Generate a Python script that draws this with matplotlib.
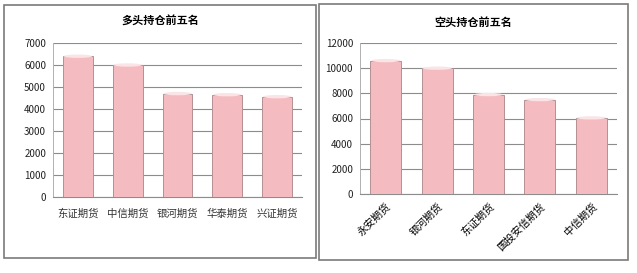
import matplotlib.pyplot as plt
from matplotlib.patches import Rectangle, Ellipse

plt.rcParams['font.family'] = ['Noto Sans CJK SC', 'DejaVu Sans']

long_names = ['东证期货', '中信期货', '银河期货', '华泰期货', '兴证期货']
long_values = [6400, 6000, 4700, 4650, 4560]
long_ticks = [0, 1000, 2000, 3000, 4000, 5000, 6000, 7000]

short_names = ['永安期货', '银河期货', '东证期货', '国投安信期货', '中信期货']
short_values = [10600, 10000, 7900, 7500, 6050]
short_ticks = [0, 2000, 4000, 6000, 8000, 10000, 12000]

bar_color = '#f4bcc0'
edge_color = '#b58f91'
cap_color = '#fbe4e6'
grid_color = '#8c8c8c'


def draw_panel(ax, names, values, ticks, rotate):
    x = list(range(len(names)))
    w = 0.6
    ax.bar(x, values, width=w, color=bar_color, edgecolor=edge_color, linewidth=0.7, zorder=3)
    cap_h = ticks[-1] * 0.022
    for xi, v in zip(x, values):
        ax.add_patch(Ellipse((xi, v), w * 0.95, cap_h, facecolor=cap_color,
                             edgecolor='none', zorder=4))
    ax.set_ylim(ticks[0], ticks[-1])
    ax.set_xlim(-0.5, len(names) - 0.5)
    ax.set_yticks(ticks)
    ax.set_yticklabels([str(t) for t in ticks], fontsize=7, color='#222222')
    ax.set_xticks(x)
    if rotate:
        ax.set_xticklabels(names, fontsize=7.5, rotation=45, ha='right', rotation_mode='anchor')
        ax.tick_params(axis='x', length=0, pad=5)
    else:
        ax.set_xticklabels(names, fontsize=7.5, color='#333333')
        ax.tick_params(axis='x', length=0, pad=8)
    ax.tick_params(axis='y', length=0, pad=5)
    ax.grid(axis='y', color=grid_color, linewidth=0.8, zorder=0)
    for s in ['top', 'right']:
        ax.spines[s].set_visible(False)
    ax.spines['left'].set_color('#b0b0b0')
    ax.spines['bottom'].set_color(grid_color)
    ax.spines['left'].set_linewidth(0.7)
    ax.spines['bottom'].set_linewidth(0.8)
    ax.set_facecolor('none')


fig = plt.figure(figsize=(6.37, 2.73), dpi=100)
W, H = 637, 273

# panel frames
fig.patches.append(Rectangle((4 / W, 1 - 258 / H), 312 / W, 253 / H, transform=fig.transFigure,
                             fill=False, edgecolor='#7a7a7a', linewidth=1.2))
fig.patches.append(Rectangle((319 / W, 1 - 260 / H), 309 / W, 256 / H, transform=fig.transFigure,
                             fill=False, edgecolor='#7a7a7a', linewidth=1.2))

ax1 = fig.add_axes([53 / W, 1 - 197 / H, 249 / W, 154 / H])
draw_panel(ax1, long_names, long_values, long_ticks, False)
fig.text(160 / W, 1 - 20 / H, '多头持仓前五名', ha='center', va='center', fontsize=8, fontweight='bold')

ax2 = fig.add_axes([360 / W, 1 - 194 / H, 257 / W, 151 / H])
draw_panel(ax2, short_names, short_values, short_ticks, True)
fig.text(473 / W, 1 - 22 / H, '空头持仓前五名', ha='center', va='center', fontsize=8, fontweight='bold')

fig.savefig('out.png', dpi=100)
